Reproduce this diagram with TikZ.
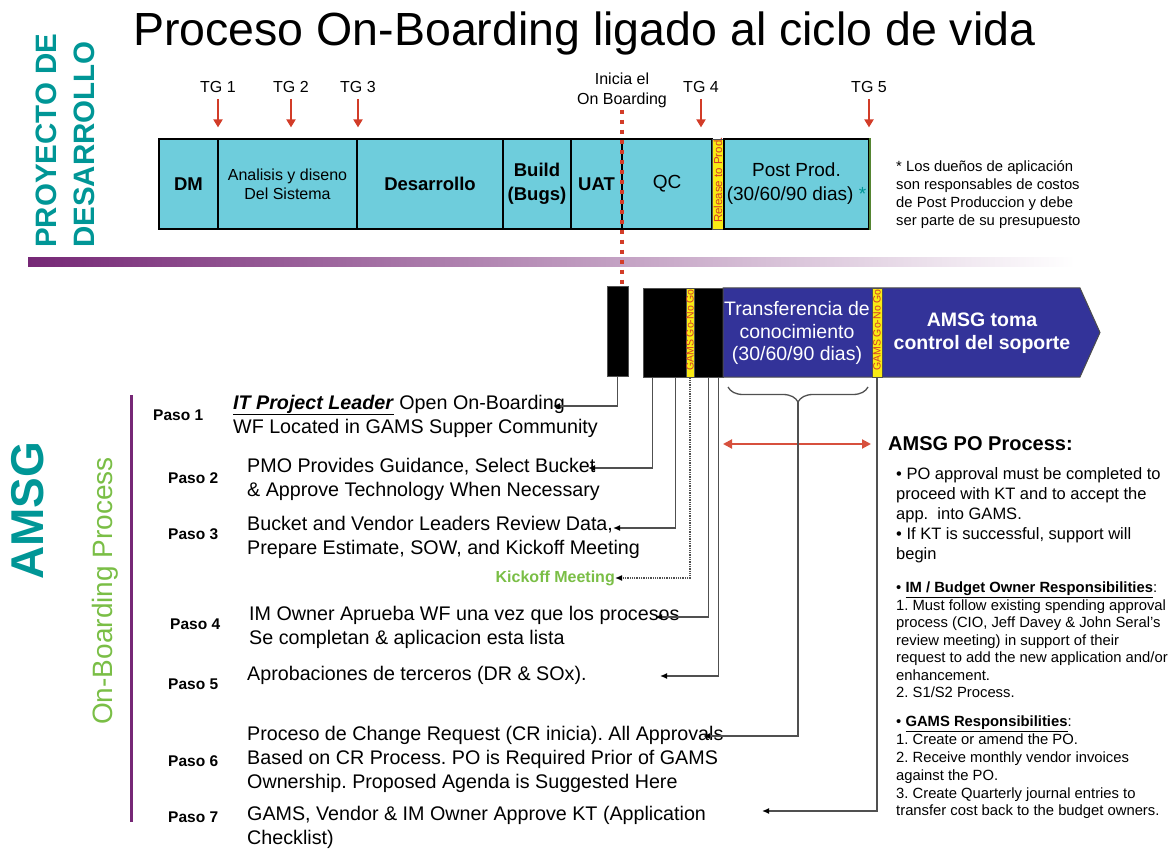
\documentclass[tikz,border=0pt]{standalone}
\usepackage{fontspec}
\setmainfont{Liberation Sans}
\usetikzlibrary{arrows.meta, positioning, decorations.pathreplacing}
\definecolor{teal1}{RGB}{0,150,150}
\definecolor{cyan1}{RGB}{110,205,220}
\definecolor{yellow1}{RGB}{250,235,20}
\definecolor{blue1}{RGB}{51,51,153}
\definecolor{red1}{RGB}{210,60,40}
\definecolor{purple1}{RGB}{118,40,118}
\definecolor{green1}{RGB}{122,190,70}
\definecolor{gray1}{RGB}{80,80,80}
\frenchspacing

\begin{document}
\begin{tikzpicture}[x=1pt, y=-1pt,
    headline/.style={anchor=base west, inner sep=0, font=\fontsize{46.5}{50}\selectfont},
    sidelabel/.style={rotate=90, anchor=west, inner sep=0, text=teal1, font=\bfseries\fontsize{29.5}{31}\selectfont},
    phase/.style={draw=black, fill=cyan1, line width=1.2pt, minimum height=90, inner sep=0, align=center},
    bigtxt/.style={font=\bfseries\fontsize{18.5}{24}\selectfont},
    plaintxt/.style={font=\fontsize{19}{24}\selectfont},
    gostrip/.style={draw=gray1, fill=yellow1, line width=0.6pt, inner sep=0},
    gotxt/.style={rotate=90, text=red1, inner sep=0, font=\fontsize{10.5}{12}\selectfont},
    tglabel/.style={inner sep=2, font=\fontsize{16}{20}\selectfont},
    tgarrow/.style={draw=red1, line width=2.5pt, -{Triangle[length=8pt,width=9pt]}, shorten <=4pt, shorten >=11pt},
    onboard/.style={draw=red1, line width=4pt, dash pattern=on 4pt off 6pt},
    blackbox/.style={draw=gray1, fill=black, line width=0.8pt, inner sep=0},
    bandtxt/.style={text=white, align=center, font=\fontsize{19.5}{22.5}\selectfont},
    poarrow/.style={draw=red1!90!white, line width=2pt, {Triangle[length=9pt,width=9pt]}-{Triangle[length=9pt,width=9pt]}},
    steplabel/.style={anchor=west, inner sep=0, font=\bfseries\fontsize{15.5}{18}\selectfont},
    steptxt/.style={anchor=west, inner sep=0, align=left, font=\fontsize{19.7}{24}\selectfont},
    link/.style={draw=gray1, line width=1.3pt, -{Latex[length=7pt,width=6pt,color=black]}},
    notes/.style={anchor=north west, inner sep=0, align=left}
]
    \useasboundingbox (0,0) rectangle (1173,850);

    % titulo y etiquetas laterales
    \node[headline, name=head] at(133,46) {Proceso On-Boarding ligado al ciclo de vida};
    \node[sidelabel, name=proy] at(46,248) {PROYECTO DE};
    \node[sidelabel, name=desa] at(84,248) {DESARROLLO};
    \node[sidelabel, name=amsg, font=\bfseries\fontsize{46}{50}\selectfont] at(28,580) {AMSG};
    \node[sidelabel, name=obp, text=green1, font=\fontsize{28}{30}\selectfont] at(105,725) {On-Boarding Process};
    \draw[purple1, line width=3pt] (131,395) -- (131,822);

    % fases del proyecto
    \node[phase, bigtxt, name=dm, minimum width=59] at(188.5,184) {DM};
    \node[phase, name=ana, minimum width=139, font=\fontsize{16}{19}\selectfont] at(287.5,184) {Analisis y diseno\\Del Sistema};
    \node[phase, bigtxt, name=des, minimum width=146] at(430,184) {Desarrollo};
    \node[phase, bigtxt, name=bld, minimum width=68] at(537,184) {Build\\(Bugs)};
    \node[phase, bigtxt, name=uat, minimum width=51] at(596.5,184) {UAT};
    \node[phase, plaintxt, name=qc, minimum width=90] at(667,184) {QC};
    \node[gostrip, name=rel, minimum width=12, minimum height=90] at(718,184) {};
    \node[gotxt, name=reltxt, font=\fontsize{11.5}{13}\selectfont] at(718,180) {Release to Prod.};
    \node[phase, plaintxt, name=post, minimum width=145] at(796.5,184) {Post Prod.\\(30/60/90 dias) {\color{teal1}*}};
    \draw[green1!70!black, line width=2pt] (post.north east) -- (post.south east);

    \node[notes, name=costos, font=\fontsize{14.8}{18}\selectfont] at(896,160) {* Los dueños de aplicación\\son responsables de costos\\de Post Produccion y debe\\ser parte de su presupuesto};

    % toll gates
    \node[tglabel, name=tg1] at(218,87) {TG 1};
    \node[tglabel, name=tg2] at(291,87) {TG 2};
    \node[tglabel, name=tg3] at(358,87) {TG 3};
    \node[tglabel, name=tg4] at(701,87) {TG 4};
    \node[tglabel, name=tg5] at(869,87) {TG 5};
    \draw[tgarrow] (tg1) -- (tg1 |- ana.north);
    \draw[tgarrow] (tg2) -- (tg2 |- ana.north);
    \draw[tgarrow] (tg3) -- (tg3 |- ana.north);
    \draw[tgarrow] (tg4) -- (tg4 |- ana.north);
    \draw[tgarrow] (tg5) -- (tg5 |- ana.north);

    \shade[left color=purple1, middle color=purple1!30!white, right color=white] (28,258) rectangle (1075,267);

    % bloque AMSG
    \node[blackbox, name=blk1, minimum width=21, minimum height=90] at(617.5,331) {};
    \node[blackbox, name=blk2, minimum width=80, minimum height=89] at(683,332.5) {};
    \node[gostrip, name=gng1, minimum width=8, minimum height=89] at(690,332.5) {};
    \node[gotxt] at(690,330) {GAMS Go-No Go};
    \filldraw[draw=black!70, fill=blue1, line width=1pt] (723,288) -- (1080,288) -- (1100,332.5) -- (1080,377) -- (723,377) -- cycle;
    \node[bandtxt, name=kt] at(797,333) {Transferencia de\\conocimiento\\(30/60/90 dias)};
    \node[bandtxt, name=soporte, font=\bfseries\fontsize{19.5}{23}\selectfont] at(982,333) {AMSG toma\\control del soporte};
    \node[gostrip, name=gng2, minimum width=10, minimum height=89] at(877,332.5) {};
    \node[gotxt] at(877,330) {GAMS Go-No Go};

    \node[tglabel, align=center, name=ini] at(622,90) {Inicia el\\On Boarding};
    \draw[onboard] (ini) -- (ini |- blk1.north);

    \draw[gray1, line width=1.3pt, decorate, decoration={brace, mirror, amplitude=15pt}] (728,387) -- (868,387);
    \coordinate (kttip) at(798,402);
    \coordinate (poL) at(723,444);
    \coordinate (poR) at(871,444);
    \draw[poarrow] (poL) -- (poR);

    % pasos
    \node[steplabel, name=ps1] at(153,415) {Paso 1};
    \node[steplabel, name=ps2] at(168,478) {Paso 2};
    \node[steplabel, name=ps3] at(168,534) {Paso 3};
    \node[steplabel, name=ps4] at(170,624) {Paso 4};
    \node[steplabel, name=ps5] at(168,684) {Paso 5};
    \node[steplabel, name=ps6] at(168,761) {Paso 6};
    \node[steplabel, name=ps7] at(168,817) {Paso 7};

    \node[steptxt, name=st1] at(233,416) {\underline{\textbf{\textit{IT Project Leader}}} Open On-Boarding\\WF Located in GAMS Supper Community};
    \node[steptxt, name=st2] at(247,479) {PMO Provides Guidance, Select Bucket\\\& Approve Technology When Necessary};
    \node[steptxt, name=st3] at(247,537) {Bucket and Vendor Leaders Review Data,\\Prepare Estimate, SOW, and Kickoff Meeting};
    \node[anchor=east, inner sep=0, text=green1, font=\bfseries\fontsize{16}{18}\selectfont, name=kick] at(615,578) {Kickoff Meeting};
    \node[steptxt, name=st4] at(249,627) {IM Owner Aprueba WF una vez que los procesos\\Se completan \& aplicacion esta lista};
    \node[steptxt, name=st5] at(247,675) {Aprobaciones de terceros (DR \& SOx).};
    \node[steptxt, name=st6] at(247,759) {Proceso de Change Request (CR inicia). All Approvals\\Based on CR Process. PO is Required Prior of GAMS\\Ownership. Proposed Agenda is Suggested Here};
    \node[steptxt, name=st7] at(247,827) {GAMS, Vendor \& IM Owner Approve KT (Application\\Checklist)};

    \coordinate (p1) at(553,406);
    \coordinate (p2) at(588,468);
    \coordinate (p3) at(613,528);
    \coordinate (p4) at(655,617);
    \coordinate (p5) at(660,676);
    \coordinate (p6) at(703,736);
    \coordinate (p7) at(762,811);

    \draw[link] (blk1.south) |- (p1);
    \draw[link] ([xshift=10]blk2.south west) |- (p2);
    \draw[link] ([xshift=33]blk2.south west) |- (p3);
    \draw[link, densely dotted] (gng1.south) |- (kick.east);
    \draw[link] ([xshift=66]blk2.south west) |- (p4);
    \draw[link] ([xshift=76]blk2.south west) |- (p5);
    \draw[link] (kttip) |- (p6);
    \draw[link] (gng2.south) |- (p7);

    % proceso de PO
    \node[anchor=west, inner sep=0, font=\bfseries\fontsize{20}{24}\selectfont, name=po] at(888,444) {AMSG PO Process:};
    \node[notes, name=poinfo, font=\fontsize{16.5}{20}\selectfont] at(896,467) {\textbullet{} PO approval must be completed to\\proceed with KT and to accept the\\app.~ into GAMS.\\\textbullet{} If KT is successful, support will\\begin};
    \node[notes, name=imresp, font=\fontsize{14.8}{17.5}\selectfont] at(896,582) {\textbullet{} \underline{\textbf{IM / Budget Owner Responsibilities}}:\\1. Must follow existing spending approval\\process (CIO, Jeff Davey \& John Seral's\\review meeting) in support of their\\request to add the new application and/or\\enhancement.\\2. S1/S2 Process.};
    \node[notes, name=gamsresp, font=\fontsize{14.8}{17.8}\selectfont] at(896,716) {\textbullet{} \underline{\textbf{GAMS Responsibilities}}:\\1. Create or amend the PO.\\2. Receive monthly vendor invoices\\against the PO.\\3. Create Quarterly journal entries to\\transfer cost back to the budget owners.};
\end{tikzpicture}
\end{document}
